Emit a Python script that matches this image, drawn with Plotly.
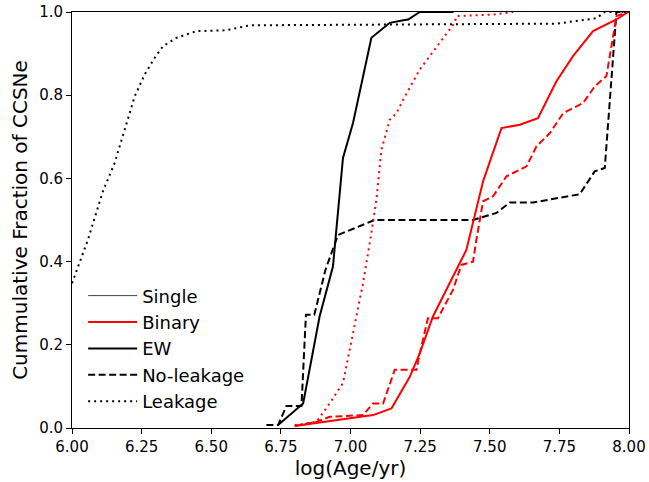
import plotly.graph_objects as go

# EW (black solid)
ew_x = [6.74, 6.83, 6.889, 6.937, 6.973, 7.009, 7.075, 7.105, 7.141, 7.19, 7.207, 7.249, 7.37]
ew_y = [0.007, 0.059, 0.268, 0.388, 0.649, 0.733, 0.938, 0.954, 0.974, 0.98, 0.982, 1.0, 1.0]

# No-leakage (black dashed)
nl_x = [6.698, 6.74, 6.77, 6.80, 6.824, 6.84, 6.87, 6.91, 6.955, 7.087, 7.44, 7.524, 7.572, 7.655, 7.823, 7.877, 7.913, 7.955, 8.0]
nl_y = [0.007, 0.007, 0.053, 0.053, 0.053, 0.272, 0.272, 0.38, 0.464, 0.50, 0.50, 0.517, 0.542, 0.542, 0.562, 0.617, 0.625, 1.0, 1.0]

# Leakage (black dotted)
lk_x = [6.0, 6.057, 6.111, 6.153, 6.189, 6.225, 6.261, 6.297, 6.327, 6.375, 6.447, 6.554, 6.638, 7.74, 7.883, 7.913, 8.0]
lk_y = [0.348, 0.452, 0.569, 0.637, 0.717, 0.797, 0.85, 0.89, 0.918, 0.938, 0.954, 0.956, 0.968, 0.972, 0.985, 1.0, 1.0]

# Binary EW (red solid)
bew_x = [6.80, 6.89, 7.081, 7.147, 7.213, 7.249, 7.296, 7.416, 7.476, 7.542, 7.608, 7.673, 7.739, 7.799, 7.871, 7.955, 7.997]
bew_y = [0.005, 0.013, 0.031, 0.047, 0.123, 0.18, 0.268, 0.428, 0.593, 0.721, 0.729, 0.745, 0.833, 0.894, 0.954, 0.982, 1.0]

# Binary No-leakage (red dashed)
bnl_x = [6.80, 6.88, 6.925, 7.045, 7.081, 7.117, 7.159, 7.237, 7.249, 7.278, 7.314, 7.368, 7.398, 7.44, 7.452, 7.476, 7.512, 7.56, 7.632, 7.668, 7.716, 7.764, 7.835, 7.877, 7.919, 7.955, 7.997]
bnl_y = [0.005, 0.015, 0.027, 0.031, 0.059, 0.059, 0.14, 0.14, 0.18, 0.264, 0.264, 0.332, 0.392, 0.40, 0.452, 0.545, 0.557, 0.605, 0.629, 0.677, 0.709, 0.757, 0.781, 0.821, 0.846, 0.99, 1.0]

# Binary Leakage (red dotted)
blk_x = [6.80, 6.878, 6.925, 6.973, 7.009, 7.045, 7.075, 7.093, 7.111, 7.141, 7.165, 7.189, 7.249, 7.321, 7.374, 7.38, 7.512, 7.584]
blk_y = [0.007, 0.015, 0.059, 0.108, 0.228, 0.348, 0.469, 0.549, 0.669, 0.741, 0.757, 0.789, 0.862, 0.926, 0.974, 0.99, 0.994, 1.0]

legend_names = ["Single", "Binary", "EW", "No-leakage", "Leakage"]
x_ticks = [6.0, 6.25, 6.5, 6.75, 7.0, 7.25, 7.5, 7.75, 8.0]
x_ticklabels = ["6.00", "6.25", "6.50", "6.75", "7.00", "7.25", "7.50", "7.75", "8.00"]
y_ticks = [0, 0.2, 0.4, 0.6, 0.8, 1.0]
y_ticklabels = ["0.0", "0.2", "0.4", "0.6", "0.8", "1.0"]

RED = "#ff0000"
BLK = "#000000"
W = 2
DASH = "7px,3.5px"
DOT = "2px,4px"

fig = go.Figure()

fig.add_trace(go.Scatter(x=lk_x, y=lk_y, mode="lines", line=dict(color=BLK, width=W, dash=DOT), showlegend=False))
fig.add_trace(go.Scatter(x=nl_x, y=nl_y, mode="lines", line=dict(color=BLK, width=W, dash=DASH), showlegend=False))
fig.add_trace(go.Scatter(x=ew_x, y=ew_y, mode="lines", line=dict(color=BLK, width=W), showlegend=False))
fig.add_trace(go.Scatter(x=blk_x, y=blk_y, mode="lines", line=dict(color=RED, width=W, dash=DOT), showlegend=False))
fig.add_trace(go.Scatter(x=bnl_x, y=bnl_y, mode="lines", line=dict(color=RED, width=W, dash=DASH), showlegend=False))
fig.add_trace(go.Scatter(x=bew_x, y=bew_y, mode="lines", line=dict(color=RED, width=W), showlegend=False))

leg_styles = [
    dict(color="#444444", width=1),
    dict(color=RED, width=W),
    dict(color=BLK, width=W),
    dict(color=BLK, width=W, dash=DASH),
    dict(color=BLK, width=W, dash=DOT),
]
for name, st in zip(legend_names, leg_styles):
    fig.add_trace(go.Scatter(x=[None], y=[None], mode="lines", name=name, line=st))

axis_common = dict(
    ticks="outside", ticklen=5, tickwidth=1, tickcolor="black",
    showline=True, linecolor="black", linewidth=1, mirror=True,
    showgrid=False, zeroline=False, automargin=False,
    tickfont=dict(size=15),
)

fig.update_layout(
    width=649, height=482,
    margin=dict(l=72, r=20, t=12, b=54),
    paper_bgcolor="white", plot_bgcolor="white",
    font=dict(family="DejaVu Sans", color="black", size=15),
    legend=dict(x=0.02, y=0.362, xanchor="left", yanchor="top",
                bgcolor="rgba(0,0,0,0)", font=dict(size=18), tracegroupgap=0,
                itemwidth=49),
    xaxis=dict(range=[6.0, 8.0], tickvals=x_ticks, ticktext=x_ticklabels,
               title=dict(text="log(Age/yr)", font=dict(size=20), standoff=4),
               **axis_common),
    yaxis=dict(range=[0.0, 1.0], tickvals=y_ticks, ticktext=y_ticklabels,
               title=dict(text="Cummulative Fraction of CCSNe", font=dict(size=20), standoff=6),
               **axis_common),
)

fig.write_html("out.html")
